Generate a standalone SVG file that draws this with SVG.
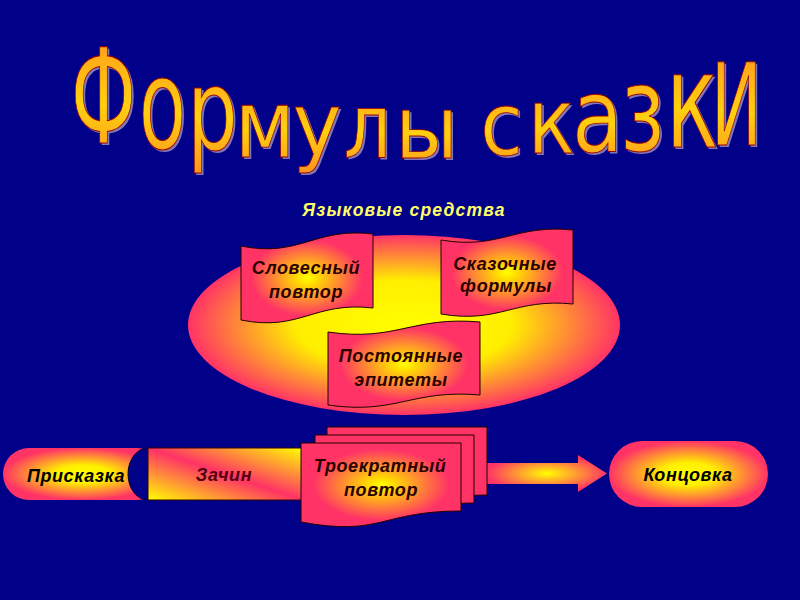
<svg xmlns="http://www.w3.org/2000/svg" xmlns:xlink="http://www.w3.org/1999/xlink" width="800" height="600" viewBox="0 0 800 600">
<defs>
<style>
.tl{font-family:"DejaVu Sans",sans-serif;font-size:80px;text-anchor:middle}
.lbl{font-family:"Liberation Sans",Arial,sans-serif;font-weight:bold;font-style:italic;font-size:18px;text-anchor:middle;letter-spacing:0.6px}
.doc{stroke:#220000;stroke-width:1}
</style>
<linearGradient id="gTitle" x1="0" y1="0" x2="0" y2="1">
<stop offset="0" stop-color="#ff9020"/><stop offset="0.55" stop-color="#ffd010"/><stop offset="1" stop-color="#ff9020"/>
</linearGradient>
<radialGradient id="gEll" cx="0.5" cy="0.5" r="0.5">
<stop offset="0" stop-color="#ffff00"/><stop offset="0.5" stop-color="#ffee00"/><stop offset="1" stop-color="#ff3366"/>
</radialGradient>
<radialGradient id="gDoc" cx="0.5" cy="0.5" r="0.5">
<stop offset="0" stop-color="#ffff00"/><stop offset="0.15" stop-color="#ffdd00"/><stop offset="0.85" stop-color="#ff3366"/>
</radialGradient>
<radialGradient id="gPill" cx="0.5" cy="0.5" r="0.5">
<stop offset="0" stop-color="#ffff00"/><stop offset="0.35" stop-color="#ffee00"/><stop offset="1" stop-color="#ff3366"/>
</radialGradient>
<linearGradient id="gZach" x1="0" y1="1" x2="1" y2="0">
<stop offset="0" stop-color="#ffff00"/><stop offset="0.5" stop-color="#ff3366"/><stop offset="1" stop-color="#ffff00"/>
</linearGradient>
<radialGradient id="gArrow" cx="0.5" cy="0.5" r="0.5">
<stop offset="0" stop-color="#ffff00"/><stop offset="1" stop-color="#ff3366"/>
</radialGradient>
<g id="titleLetters" class="tl">
<text transform="translate(103.5,143) scale(0.95,1.65)">Ф</text>
<text transform="translate(162.5,148) scale(0.97,1.55)">о</text>
<text transform="translate(212.5,150) scale(1.0,1.41)">р</text>
<text transform="translate(265,157) scale(1.0,1.19)">м</text>
<text transform="translate(317,155) scale(1.04,1.09)">у</text>
<text transform="translate(367.5,157) scale(0.93,1.12)">л</text>
<text transform="translate(426.5,158) scale(1.0,1.1)">ы</text>
<text transform="translate(501.5,155) scale(0.97,1.1)">с</text>
<text transform="translate(551.5,153) scale(0.98,1.14)">к</text>
<text transform="translate(597.5,152) scale(1.04,1.26)">а</text>
<text transform="translate(642.5,150) scale(1.05,1.44)">з</text>
<text transform="translate(692,147) scale(1.1,1.64)">к</text>
<text transform="translate(736.5,145) scale(0.85,1.42)">И</text>
</g>
</defs>
<rect width="800" height="600" fill="#000088"/>

<g id="title">
<use xlink:href="#titleLetters" fill="#9a8cc0" opacity="0.85" transform="translate(2,2)"/>
<use xlink:href="#titleLetters" fill="url(#gTitle)" stroke="#990000" stroke-width="0.7"/>
</g>

<g id="subtitle">
<text x="404" y="216" class="lbl" fill="#ffff66" style="font-size:17.5px;letter-spacing:1.2px">Языковые средства</text>
</g>

<g id="ellipse">
<ellipse cx="404" cy="325" rx="216" ry="90" fill="url(#gEll)"/>
</g>

<g id="node-slovesny">
<path class="doc" d="M241,246 C300,258 314,227 373,234 L373,308 C314,301 300,332 241,320 Z" fill="url(#gDoc)"/>
<text class="lbl" x="306" y="274" fill="#2a0000">Словесный</text>
<text class="lbl" x="306" y="298" fill="#2a0000">повтор</text>
</g>

<g id="node-skazochnye">
<path class="doc" d="M441,240 C500,250 514,224 573,230 L573,304 C514,298 500,324 441,314 Z" fill="url(#gDoc)"/>
<text class="lbl" x="505" y="270" fill="#2a0000">Сказочные</text>
<text class="lbl" x="506" y="292" fill="#2a0000">формулы</text>
</g>

<g id="node-postoyannye">
<path class="doc" d="M328,332 C396,342 412,316 480,322 L480,395 C412,389 396,415 328,405 Z" fill="url(#gDoc)"/>
<text class="lbl" x="401" y="362" fill="#2a0000">Постоянные</text>
<text class="lbl" x="401" y="386" fill="#2a0000">эпитеты</text>
</g>

<g id="node-priskazka">
<rect x="3" y="448" width="160" height="52" rx="26" fill="url(#gPill)"/>
<text class="lbl" x="76" y="482" fill="#000000">Присказка</text>
<path d="M148,448 A20,26 0 0 0 148,500 Z" fill="#000088" stroke="#000033" stroke-width="1"/>
</g>

<g id="node-zachin">
<rect x="148" y="448" width="154" height="52" fill="url(#gZach)" stroke="#330000" stroke-width="1"/>
<text class="lbl" x="224" y="481" fill="#550010">Зачин</text>
</g>

<g id="connectors">
<path d="M487,463 H578 V455 L607,473.5 L578,492 V484 H487 Z" fill="url(#gArrow)"/>
</g>

<g id="node-troekratny">
<path class="doc" d="M327,427 H487 V495 C407,495 407,521 327,506 Z" fill="#ff3366"/>
<path class="doc" d="M315,435 H474 V503 C394,503 394,529 315,514 Z" fill="#ff3366"/>
<path class="doc" d="M301,443 H461 V511 C381,511 381,537 301,522 Z" fill="url(#gDoc)"/>
<text class="lbl" x="380" y="472" fill="#2a0000">Троекратный</text>
<text class="lbl" x="381" y="496" fill="#2a0000">повтор</text>
</g>

<g id="node-koncovka">
<rect x="609" y="441" width="159" height="66" rx="33" fill="url(#gPill)"/>
<text class="lbl" x="688" y="481" fill="#000000">Концовка</text>
</g>
</svg>
